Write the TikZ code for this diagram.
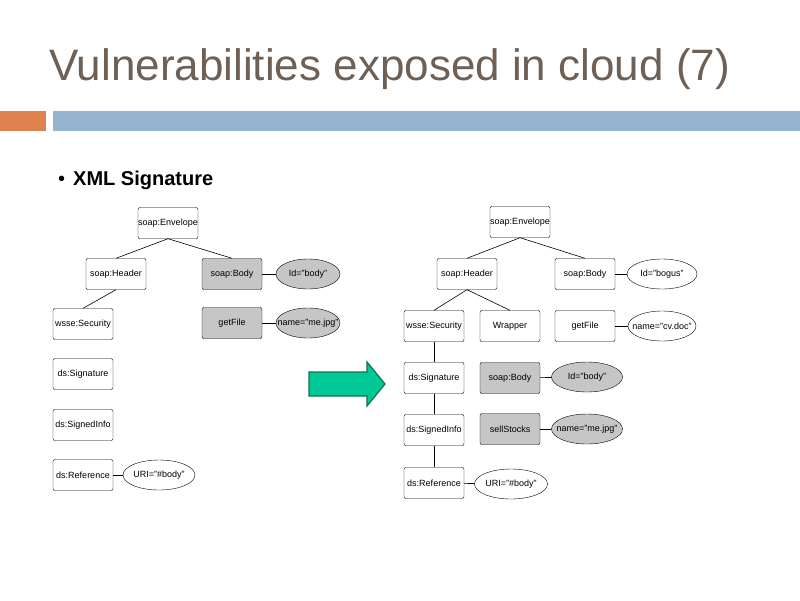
\documentclass[tikz,border=0pt]{standalone}
\usepackage{fontspec}
\setmainfont{Liberation Sans}
\usetikzlibrary{shapes.geometric}
\definecolor{titlec}{RGB}{110,96,85}
\definecolor{orng}{RGB}{222,130,80}
\definecolor{blu}{RGB}{148,180,210}
\definecolor{grn}{RGB}{0,200,150}
\definecolor{grnd}{RGB}{20,110,80}
\newcommand{\mb}[1]{\makebox[0pt]{#1}}
\begin{document}
\begin{tikzpicture}[x=1pt,y=-1pt,
 box/.style={draw,rounded corners=2pt,minimum width=60pt,minimum height=31pt,inner sep=0pt,font=\fontsize{9}{10}\selectfont},
 gbox/.style={box,fill=gray!45},
 ell/.style={draw,ellipse,minimum width=68pt,minimum height=30pt,inner sep=0pt,font=\fontsize{9}{10}\selectfont},
 gell/.style={ell,fill=gray!45},
 ln/.style={draw,line width=0.6pt}]
\useasboundingbox (0,0) rectangle (800,600);
\node[anchor=base west,text=titlec,font=\fontsize{44}{48}\selectfont,inner sep=0pt] (title) at (49,80) {Vulnerabilities exposed in cloud (7)};
\fill[orng] (0,111) rectangle (46,131);
\fill[blu] (53,111) rectangle (800,131);
\node[anchor=base west,font=\fontsize{20}{22}\selectfont,inner sep=0pt] (bul) at (58,185) {\textbullet\hspace{8pt}\textbf{XML Signature}};
% left
\node[box] (le) at (168,223) {soap:Envelope};
\node[box] (lh) at (116,274) {soap:Header};
\node[gbox] (lb) at (232,274) {soap:Body};
\node[gell,minimum width=64pt] (lid) at (308,274) {\mb{Id="body"}};
\node[box] (ls) at (83,324) {wsse:Security};
\node[gbox] (lg) at (232,323) {getFile};
\node[gell,minimum width=64pt] (lnm) at (308,323) {\mb{name="me.jpg"}};
\node[box] (lsig) at (83,374) {ds:Signature};
\node[box] (lsi) at (83,425) {ds:SignedInfo};
\node[box] (lr) at (83,475) {ds:Reference};
\node[ell,minimum width=72pt] (lu) at (159,475) {\mb{URI="\#body"}};
\draw[ln] (le.south) -- (lh.north);
\draw[ln] (le.south) -- (lb.north);
\draw[ln] (lh.south) -- (ls.north);
\draw[ln] (lb) -- (lid);
\draw[ln] (lg) -- (lnm);
\draw[ln] (lr) -- (lu);
% arrow
\draw[draw=grnd,line width=1.2pt,fill=grn] (309,372) -- (367,372) -- (367,362) -- (385,384) -- (367,406) -- (367,396) -- (309,396) -- cycle;
% right
\node[box] (re) at (520,222) {soap:Envelope};
\node[box] (rh) at (467,274) {soap:Header};
\node[box] (rb) at (585,274) {soap:Body};
\node[ell,minimum width=70pt] (rid) at (662,274) {\mb{Id="bogus"}};
\node[box] (rs) at (434,326) {wsse:Security};
\node[box] (rw) at (510,326) {Wrapper};
\node[box] (rg) at (585,326) {getFile};
\node[ell,minimum width=68pt] (rnm) at (662,326) {\mb{name="cv.doc"}};
\node[box] (rsig) at (434,378) {ds:Signature};
\node[gbox] (rsb) at (510,378) {soap:Body};
\node[gell,minimum width=71pt] (rid2) at (587,377) {\mb{Id="body"}};
\node[box] (rsi) at (434,430) {ds:SignedInfo};
\node[gbox] (rss) at (510,429) {sellStocks};
\node[gell,minimum width=71pt] (rnm2) at (587,429) {\mb{name="me.jpg"}};
\node[box] (rr) at (434,483) {ds:Reference};
\node[ell,minimum width=73pt] (ru) at (511,484) {\mb{URI="\#body"}};
\draw[ln] (re.south) -- (rh.north);
\draw[ln] (re.south) -- (rb.north);
\draw[ln] (rh.south) -- (rs.north);
\draw[ln] (rh.south) -- (rw.north);
\draw[ln] (rb) -- (rid);
\draw[ln] (rg) -- (rnm);
\draw[ln] (rs) -- (rsig);
\draw[ln] (rsig) -- (rsi);
\draw[ln] (rsi) -- (rr);
\draw[ln] (rsb) -- (rid2);
\draw[ln] (rss) -- (rnm2);
\draw[ln] (rr) -- (ru);
\end{tikzpicture}
\end{document}
